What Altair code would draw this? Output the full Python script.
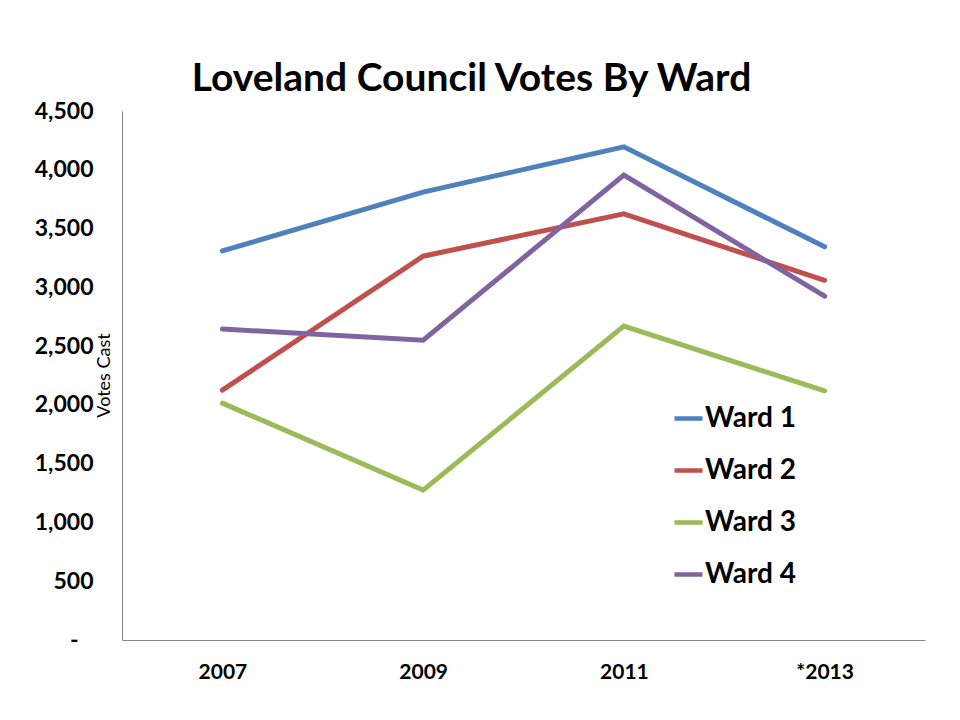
import altair as alt
import pandas as pd

years = ["2007", "2009", "2011", "*2013"]
wards = ["Ward 1", "Ward 2", "Ward 3", "Ward 4"]
ward1 = [3310, 3810, 4195, 3345]
ward2 = [2125, 3265, 3625, 3060]
ward3 = [2015, 1275, 2670, 2120]
ward4 = [2645, 2550, 3955, 2925]
colors = ["#4F81BD", "#C0504D", "#9BBB59", "#8064A2"]

rows = []
for w, vals in zip(wards, [ward1, ward2, ward3, ward4]):
    for y, v in zip(years, vals):
        rows.append({"Year": y, "Ward": w, "Votes": v})
df = pd.DataFrame(rows)

FONT = "Lato"

chart = alt.Chart(df).mark_line(strokeWidth=5, strokeCap="round", strokeJoin="miter").encode(
    x=alt.X("Year:N", sort=years, scale=alt.Scale(type="point", padding=0.5),
            axis=alt.Axis(title=None, labelAngle=0, ticks=False, tickSize=0, labelPadding=21,
                          labelFontSize=21, labelFont=FONT, labelFontWeight="bold", labelColor="#000000",
                          domainColor="#868686", domainWidth=1, grid=False)),
    y=alt.Y("Votes:Q", scale=alt.Scale(domain=[0, 4500], nice=False, zero=True),
            axis=alt.Axis(title="Votes Cast", values=list(range(0, 4501, 500)),
                          labelExpr="datum.value == 0 ? '-' : format(datum.value, ',')",
                          ticks=False, tickSize=0,
                          labelPadding=alt.condition("datum.value == 0", alt.value(44), alt.value(29)),
                          labelFontSize=23, labelFont=FONT,
                          labelFontWeight="bold", labelColor="#000000",
                          domainColor="#868686", domainWidth=1, grid=False,
                          titleFont=FONT, titleFontSize=18, titleFontWeight="normal", titleColor="#000000",
                          titleX=-9, titleY=264, titleAngle=270, titleBaseline="bottom", titleAlign="center")),
    color=alt.Color("Ward:N", scale=alt.Scale(domain=wards, range=colors),
                    legend=alt.Legend(title=None, orient="none", legendX=550, legendY=291,
                                      symbolType="stroke", symbolSize=784, symbolStrokeWidth=4.5,
                                      labelFont=FONT, labelFontSize=28, labelFontWeight="bold",
                                      labelColor="#000000", labelOffset=0, rowPadding=21,
                                      padding=0)),
).properties(
    width=803, height=529,
    title=alt.TitleParams("Loveland Council Votes By Ward", font=FONT, fontSize=39, fontWeight="bold",
                          color="#000000", anchor="middle", dx=-52, offset=1),
    padding={"left": 114, "top": 103, "right": 20, "bottom": 60},
    autosize=alt.AutoSizeParams(type="none"),
    background="#ffffff",
).configure_view(stroke=None, strokeWidth=0)

chart.save("out.html", embed_options={"renderer": "svg", "actions": False})
